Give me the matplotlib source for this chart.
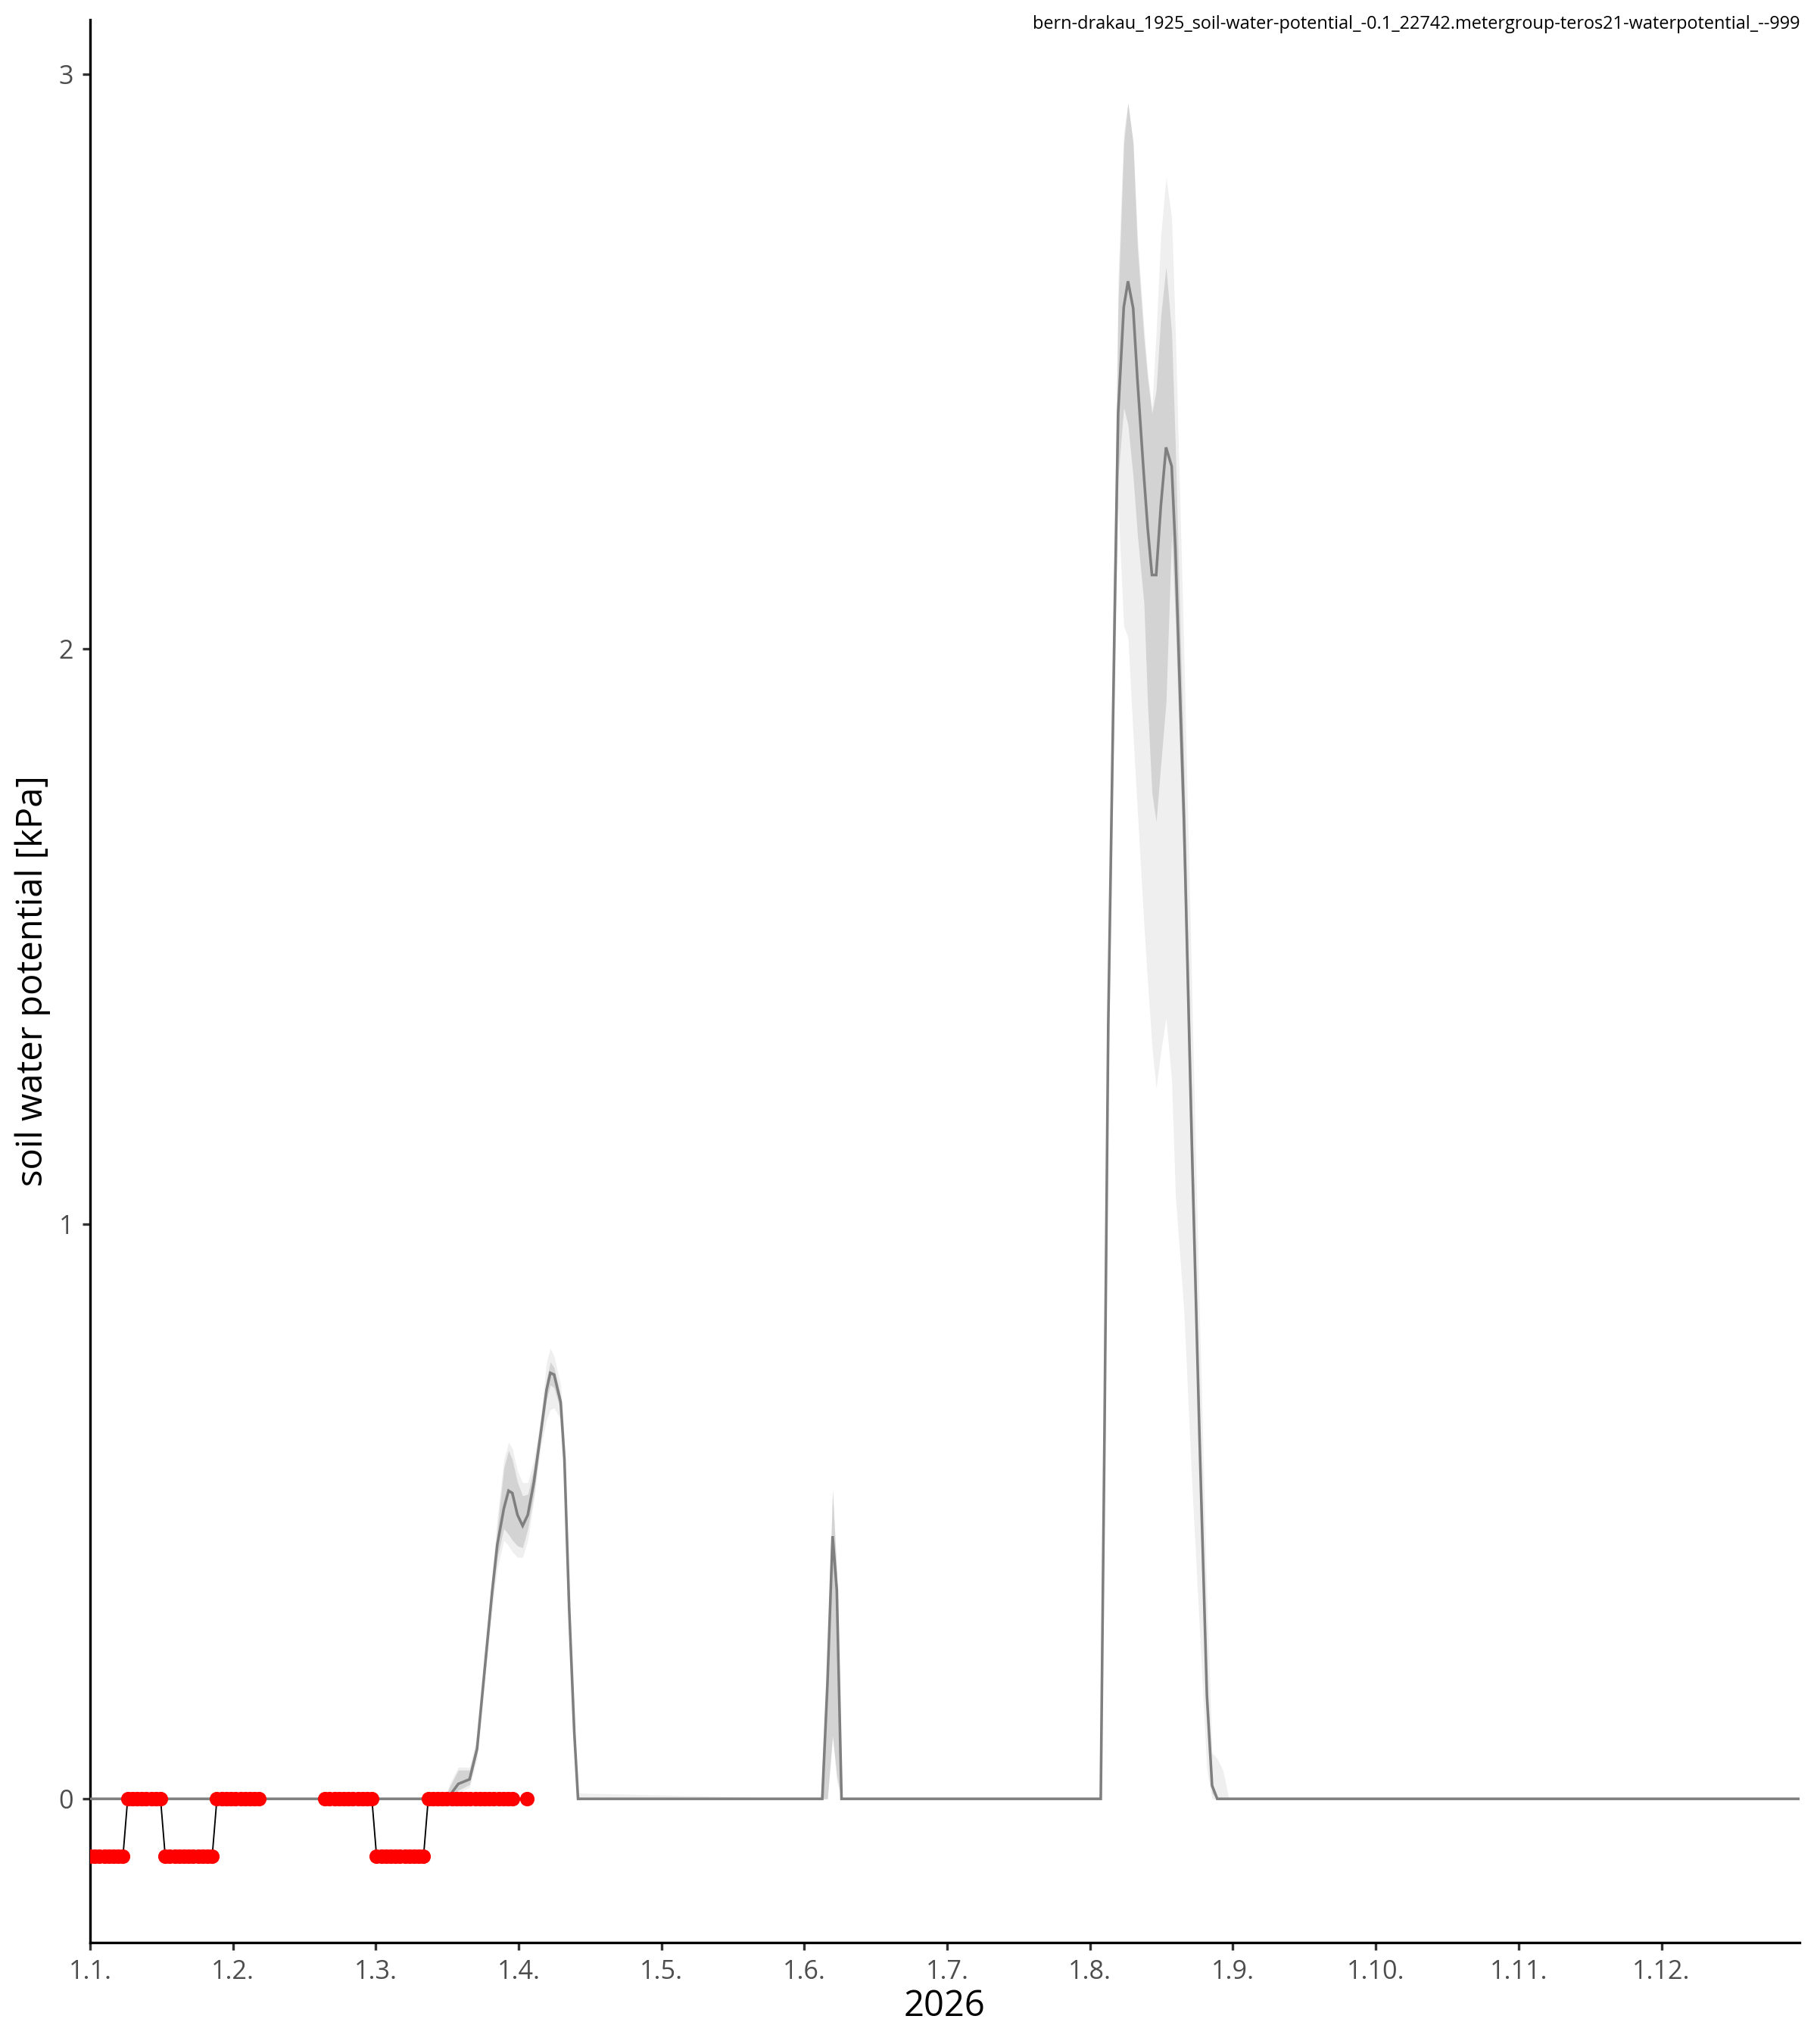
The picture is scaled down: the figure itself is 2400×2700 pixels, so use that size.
import numpy as np
import matplotlib
matplotlib.use("Agg")
import matplotlib.pyplot as plt

plt.rcParams['font.family'] = ['Open Sans', 'DejaVu Sans']

# ---------------- data ----------------
title = "bern-drakau_1925_soil-water-potential_-0.1_22742.metergroup-teros21-waterpotential_--999"
x_label = "2026"
y_label = "soil water potential [kPa]"

month_ticks = [0, 30.417, 60.833, 91.25, 121.667, 152.083, 182.5, 212.917, 243.333, 273.75, 304.167, 334.583]
month_labels = ["1.1.", "1.2.", "1.3.", "1.4.", "1.5.", "1.6.", "1.7.", "1.8.", "1.9.", "1.10.", "1.11.", "1.12."]
y_ticks = [0, 1, 2, 3]

# observed (daily, day of year starting at 0)
obs_day = list(range(0, 94))
obs_val = [
    -0.1, -0.1, -0.1, -0.1, -0.1, -0.1, -0.1, -0.1,            # 0-7
    0, 0, 0, 0, 0, 0, 0, 0,                                    # 8-15
    -0.1, -0.1, -0.1, -0.1, -0.1, -0.1, -0.1, -0.1, -0.1, -0.1, -0.1,  # 16-26
    0, 0, 0, 0, 0, 0, 0, 0, 0, 0,                              # 27-36
    None, None, None, None, None, None, None, None, None, None, None, None, None,  # 37-49
    0, 0, 0, 0, 0, 0, 0, 0, 0, 0, 0,                           # 50-60
    -0.1, -0.1, -0.1, -0.1, -0.1, -0.1, -0.1, -0.1, -0.1, -0.1, -0.1,  # 61-71
    0, 0, 0, 0, 0, 0, 0, 0, 0, 0, 0, 0, 0, 0, 0, 0, 0, 0, 0,   # 72-90
    None, None,                                                # 91-92
    0,                                                         # 93
]

# forecast (median and two quantile bands)
fc_day = [0, 75.5, 76.5, 78.4, 80.8, 82.4, 84.0, 85.6, 86.7, 88.1, 89.1, 89.9, 91.0, 92.1,
          93.2, 94.5, 95.9, 97.2, 98.0, 98.8, 100.2, 101.0, 102.0, 103.1, 103.9,
          155.9, 157.0, 158.1, 159.0, 160.0,
          214.9, 215.2, 216.0, 216.8, 218.2, 218.9, 220.1, 221.0, 222.1, 223.0, 224.4,
          225.2, 226.1, 227.0, 228.0, 229.1, 230.3, 231.1, 232.9, 234.6, 236.2, 237.8,
          238.9, 240.0, 241.2, 242.5, 364]
fc_med = [0, 0, 0.005, 0.026, 0.034, 0.087, 0.224, 0.36, 0.442, 0.505, 0.536, 0.532, 0.494, 0.475,
          0.494, 0.551, 0.633, 0.712, 0.741, 0.738, 0.69, 0.59, 0.333, 0.115, 0,
          0, 0.2, 0.457, 0.363, 0,
          0, 0, 0.64, 1.35, 2.08, 2.41, 2.595, 2.64, 2.593, 2.47, 2.30,
          2.21, 2.129, 2.129, 2.25, 2.351, 2.318, 2.174, 1.708, 1.137, 0.637, 0.18,
          0.023, 0, 0, 0, 0]
fc_in_lo = [0, 0, 0, 0.015, 0.025, 0.08, 0.21, 0.345, 0.42, 0.47, 0.46, 0.45, 0.44, 0.437,
            0.47, 0.53, 0.62, 0.695, 0.72, 0.715, 0.675, 0.58, 0.32, 0.105, 0,
            0, 0.0, 0.11, 0.04, 0,
            0, 0, 0.6, 1.3, 2.0, 2.3, 2.42, 2.39, 2.30, 2.2, 2.08,
            1.9, 1.75, 1.70, 1.80, 1.907, 2.2, 2.05, 1.60, 1.05, 0.58, 0.16,
            0.01, 0, 0, 0, 0]
fc_in_hi = [0, 0, 0.02, 0.05, 0.05, 0.1, 0.235, 0.375, 0.47, 0.575, 0.606, 0.59, 0.551, 0.527,
            0.53, 0.575, 0.645, 0.73, 0.76, 0.75, 0.70, 0.60, 0.345, 0.125, 0,
            0, 0.25, 0.535, 0.39, 0,
            0, 0.01, 0.7, 1.42, 2.2, 2.6, 2.88, 2.95, 2.88, 2.70, 2.54,
            2.47, 2.41, 2.45, 2.58, 2.665, 2.55, 2.35, 1.80, 1.20, 0.67, 0.2,
            0.03, 0, 0, 0, 0]
fc_out_lo = [0, 0, 0, 0.01, 0.02, 0.07, 0.2, 0.33, 0.40, 0.45, 0.44, 0.43, 0.42, 0.42,
             0.45, 0.52, 0.61, 0.66, 0.677, 0.68, 0.66, 0.57, 0.31, 0.09, 0,
             0, 0, 0.11, 0.03, 0,
             0, 0, 0.55, 1.25, 1.95, 2.25, 2.04, 2.02, 1.85, 1.72, 1.52,
             1.42, 1.31, 1.236, 1.30, 1.358, 1.25, 1.05, 0.85, 0.55, 0.30, 0.05,
             0, 0, 0, 0, 0]
fc_out_hi = [0, 0, 0.025, 0.055, 0.055, 0.11, 0.245, 0.39, 0.49, 0.59, 0.62, 0.61, 0.57, 0.55,
             0.55, 0.59, 0.66, 0.76, 0.784, 0.77, 0.72, 0.62, 0.36, 0.14, 0.01,
             0, 0.26, 0.54, 0.40, 0,
             0, 0.02, 0.75, 1.48, 2.25, 2.65, 2.90, 2.95, 2.88, 2.72, 2.56,
             2.48, 2.42, 2.55, 2.72, 2.82, 2.75, 2.55, 2.0, 1.40, 0.85, 0.35,
             0.08, 0.07, 0.05, 0, 0]

# ---------------- figure ----------------
W, H = 2400, 2700
fig = plt.figure(figsize=(8, 9), dpi=300)
ax = fig.add_axes([119 / W, 1 - 2566 / H, (2377 - 119) / W, (2566 - 26) / H])

fd = np.array(fc_day, dtype=float)
ax.fill_between(fd, fc_out_lo, fc_out_hi, color='#efefef', lw=0, zorder=1)
ax.fill_between(fd, fc_in_lo, fc_in_hi, color='#d3d3d3', lw=0, zorder=2)
ax.plot(fd, fc_med, color='#7f7f7f', lw=0.85, zorder=3, solid_joinstyle='miter')

od = np.array(obs_day, dtype=float)
ov = np.array(obs_val, dtype=float)
ax.plot(od, ov, color='black', lw=0.45, zorder=4)
ax.plot(od, ov, ls='none', marker='o', ms=4.6, mfc='#ff0000', mec='#ff0000', mew=0, zorder=5)

ax.set_xlim(0, 364)
ax.set_ylim(-0.25, 3.095)
ax.set_xticks(month_ticks)
ax.set_xticklabels(month_labels)
ax.set_yticks(y_ticks)
ax.set_yticklabels([str(t) for t in y_ticks])

for s in ['top', 'right']:
    ax.spines[s].set_visible(False)
for s in ['left', 'bottom']:
    ax.spines[s].set_linewidth(0.8)
    ax.spines[s].set_color('black')
ax.tick_params(axis='both', length=2.4, width=0.8, color='#333333', labelcolor='#4d4d4d',
               labelsize=8.2, pad=2.9)

fig.text(1248 / W, 1 - 2650 / H, x_label, ha='center', va='center', fontsize=11.3, color='black')
fig.text(43 / W, 1 - 1296 / H, y_label, ha='center', va='center', rotation=90, fontsize=11.3, color='black')
fig.text(2378 / W, 1 - 32 / H, title, ha='right', va='center', fontsize=5.65, color='black')

fig.savefig("out.png", dpi=300)
